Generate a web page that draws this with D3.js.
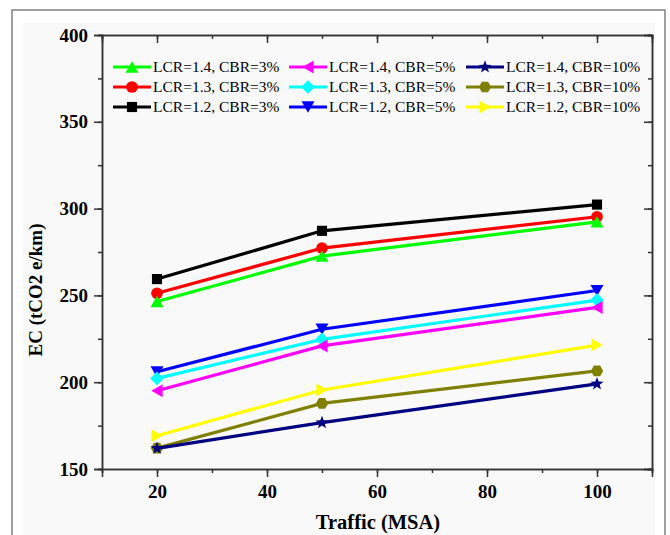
<!DOCTYPE html>
<html>
<head>
<meta charset="utf-8">
<script src="https://cdn.jsdelivr.net/npm/d3@7"></script>
<style>
  html, body { margin: 0; padding: 0; background: #ffffff; }
  svg { display: block; }
  text { font-family: "Liberation Serif", "Times New Roman", serif; }
</style>
</head>
<body>
<svg id="chart" width="670" height="535"></svg>
<script>
// ---------- data ----------
const trafficValues = [20, 50, 100];
const xTicks = [20, 40, 60, 80, 100];
const yTicks = [150, 200, 250, 300, 350, 400];

const seriesNames = [
  "LCR=1.4, CBR=3%", "LCR=1.3, CBR=3%", "LCR=1.2, CBR=3%",
  "LCR=1.4, CBR=5%", "LCR=1.3, CBR=5%", "LCR=1.2, CBR=5%",
  "LCR=1.4, CBR=10%", "LCR=1.3, CBR=10%", "LCR=1.2, CBR=10%"
];
const lcr14_cbr3  = [246.5, 272.6, 292.4];
const lcr13_cbr3  = [251.2, 277.2, 295.3];
const lcr12_cbr3  = [259.4, 287.2, 302.3];
const lcr14_cbr5  = [195.1, 220.9, 243.1];
const lcr13_cbr5  = [202.2, 224.7, 247.3];
const lcr12_cbr5  = [206.0, 230.5, 252.8];
const lcr14_cbr10 = [161.9, 176.7, 199.0];
const lcr13_cbr10 = [162.0, 187.8, 206.5];
const lcr12_cbr10 = [169.2, 195.5, 221.4];
const seriesValues = [lcr14_cbr3, lcr13_cbr3, lcr12_cbr3, lcr14_cbr5, lcr13_cbr5, lcr12_cbr5, lcr14_cbr10, lcr13_cbr10, lcr12_cbr10];
const seriesColors = ["#00ff00", "#ff0000", "#000000", "#ff00ff", "#00ffff", "#0000ff", "#000080", "#808000", "#ffff00"];
const seriesMarkers = ["triUp", "circle", "square", "triLeft", "diamond", "triDown", "star", "hexagon", "triRight"];

// ---------- layout ----------
const svg = d3.select("#chart");
const L = 102, R = 652, T = 35, B = 469;

// frame
svg.append("rect").attr("x", 12).attr("y", 10).attr("width", 653).attr("height", 560)
  .attr("fill", "#ffffff").attr("stroke", "#808080").attr("stroke-width", 1.5);
svg.append("rect").attr("x", 23).attr("y", 23).attr("width", 632).attr("height", 560)
  .attr("fill", "#f9f9f9");

const x = d3.scaleLinear().domain([10, 110]).range([L, R]);
const y = d3.scaleLinear().domain([150, 400]).range([B, T]);

// marker path generator
function markerPath(type, s) {
  const p = d3.path();
  const poly = pts => { p.moveTo(pts[0][0], pts[0][1]); pts.slice(1).forEach(q => p.lineTo(q[0], q[1])); p.closePath(); };
  const h = s * 0.87;
  switch (type) {
    case "square": { const a = s * 0.78; poly([[-a,-a],[a,-a],[a,a],[-a,a]]); break; }
    case "circle": p.arc(0, 0, s * 0.9, 0, 2 * Math.PI); p.closePath(); break;
    case "triUp": poly([[0,-h],[s,h],[-s,h]]); break;
    case "triDown": poly([[0,h],[s,-h],[-s,-h]]); break;
    case "triLeft": poly([[-h,0],[h,-s],[h,s]]); break;
    case "triRight": poly([[h,0],[-h,-s],[-h,s]]); break;
    case "diamond": { const a = s * 1.05; poly([[0,-a],[a,0],[0,a],[-a,0]]); break; }
    case "hexagon": { const a = s * 0.95; const pts = d3.range(6).map(i => [a*Math.cos(i*Math.PI/3), a*Math.sin(i*Math.PI/3)]); poly(pts); break; }
    case "star": { const ro = s * 1.05, ri = ro * 0.42; const pts = d3.range(10).map(i => { const ang = -Math.PI/2 + i*Math.PI/5; const rr = i % 2 ? ri : ro; return [rr*Math.cos(ang), rr*Math.sin(ang)]; }); poly(pts); break; }
  }
  return p.toString();
}

// axes
const axisColor = "#333333";
function styleAxis(g) {
  g.selectAll(".domain").attr("stroke", axisColor).attr("stroke-width", 1.5);
  g.selectAll(".tick line").attr("stroke", axisColor).attr("stroke-width", 1.5);
  g.selectAll(".tick text").attr("fill", "#000").attr("font-size", 19).attr("font-weight", "bold")
    .attr("font-family", "'Liberation Serif', 'Times New Roman', serif");
}
const xMinor = d3.range(10, 111, 10);
const yMinor = d3.range(150, 401, 25);

// minor ticks
svg.append("g").attr("transform", `translate(0,${B})`)
  .call(d3.axisBottom(x).tickValues(xMinor).tickSize(4).tickFormat("")).call(styleAxis);
svg.append("g").attr("transform", `translate(0,${T})`)
  .call(d3.axisTop(x).tickValues(xMinor).tickSize(-4).tickFormat("")).call(styleAxis);
svg.append("g").attr("transform", `translate(${L},0)`)
  .call(d3.axisLeft(y).tickValues(yMinor).tickSize(4).tickFormat("")).call(styleAxis);
svg.append("g").attr("transform", `translate(${R},0)`)
  .call(d3.axisRight(y).tickValues(yMinor).tickSize(-4).tickFormat("")).call(styleAxis);

// major ticks
svg.append("g").attr("transform", `translate(0,${B})`)
  .call(d3.axisBottom(x).tickValues(xTicks).tickSize(8).tickPadding(8).tickFormat(d3.format("d"))).call(styleAxis);
svg.append("g").attr("transform", `translate(0,${T})`)
  .call(d3.axisTop(x).tickValues(xTicks).tickSize(-8).tickFormat("")).call(styleAxis);
svg.append("g").attr("transform", `translate(${L},0)`)
  .call(d3.axisLeft(y).tickValues(yTicks).tickSize(8).tickPadding(6).tickFormat(d3.format("d"))).call(styleAxis);
svg.append("g").attr("transform", `translate(${R},0)`)
  .call(d3.axisRight(y).tickValues(yTicks).tickSize(-8).tickFormat("")).call(styleAxis);

// axis titles
svg.append("text").attr("x", (L + R) / 2 + 1).attr("y", 529).attr("text-anchor", "middle")
  .attr("font-size", 20.5).attr("font-weight", "bold").text("Traffic (MSA)");
svg.append("text").attr("transform", "translate(42,290) rotate(-90)").attr("text-anchor", "middle")
  .attr("font-size", 19).attr("font-weight", "bold").text("EC (tCO2 e/km)");

// series (drawn so that LCR=1.4 ends on top)
const drawOrder = [2, 5, 8, 1, 4, 7, 0, 3, 6];
const line = d3.line().x((d, i) => x(trafficValues[i])).y(d => y(d));
const plot = svg.append("g");
drawOrder.forEach(k => {
  const g = plot.append("g");
  g.append("path").datum(seriesValues[k]).attr("d", line)
    .attr("fill", "none").attr("stroke", seriesColors[k]).attr("stroke-width", 3.2);
  g.selectAll("path.m").data(seriesValues[k]).enter().append("path").attr("class", "m")
    .attr("transform", (d, i) => `translate(${x(trafficValues[i])},${y(d)})`)
    .attr("d", markerPath(seriesMarkers[k], 6.5)).attr("fill", seriesColors[k]);
});

// legend
const legCols = [113, 289, 466];
const legRows = [67, 87, 107];
seriesNames.forEach((name, k) => {
  const cx = legCols[Math.floor(k / 3)], cy = legRows[k % 3];
  const g = svg.append("g");
  g.append("line").attr("x1", cx).attr("x2", cx + 38).attr("y1", cy).attr("y2", cy)
    .attr("stroke", seriesColors[k]).attr("stroke-width", 3.2);
  g.append("path").attr("transform", `translate(${cx + 19},${cy})`)
    .attr("d", markerPath(seriesMarkers[k], 6.5)).attr("fill", seriesColors[k]);
  g.append("text").attr("x", cx + 40).attr("y", cy + 5).attr("font-size", 15.5).text(name);
});
</script>
</body>
</html>
